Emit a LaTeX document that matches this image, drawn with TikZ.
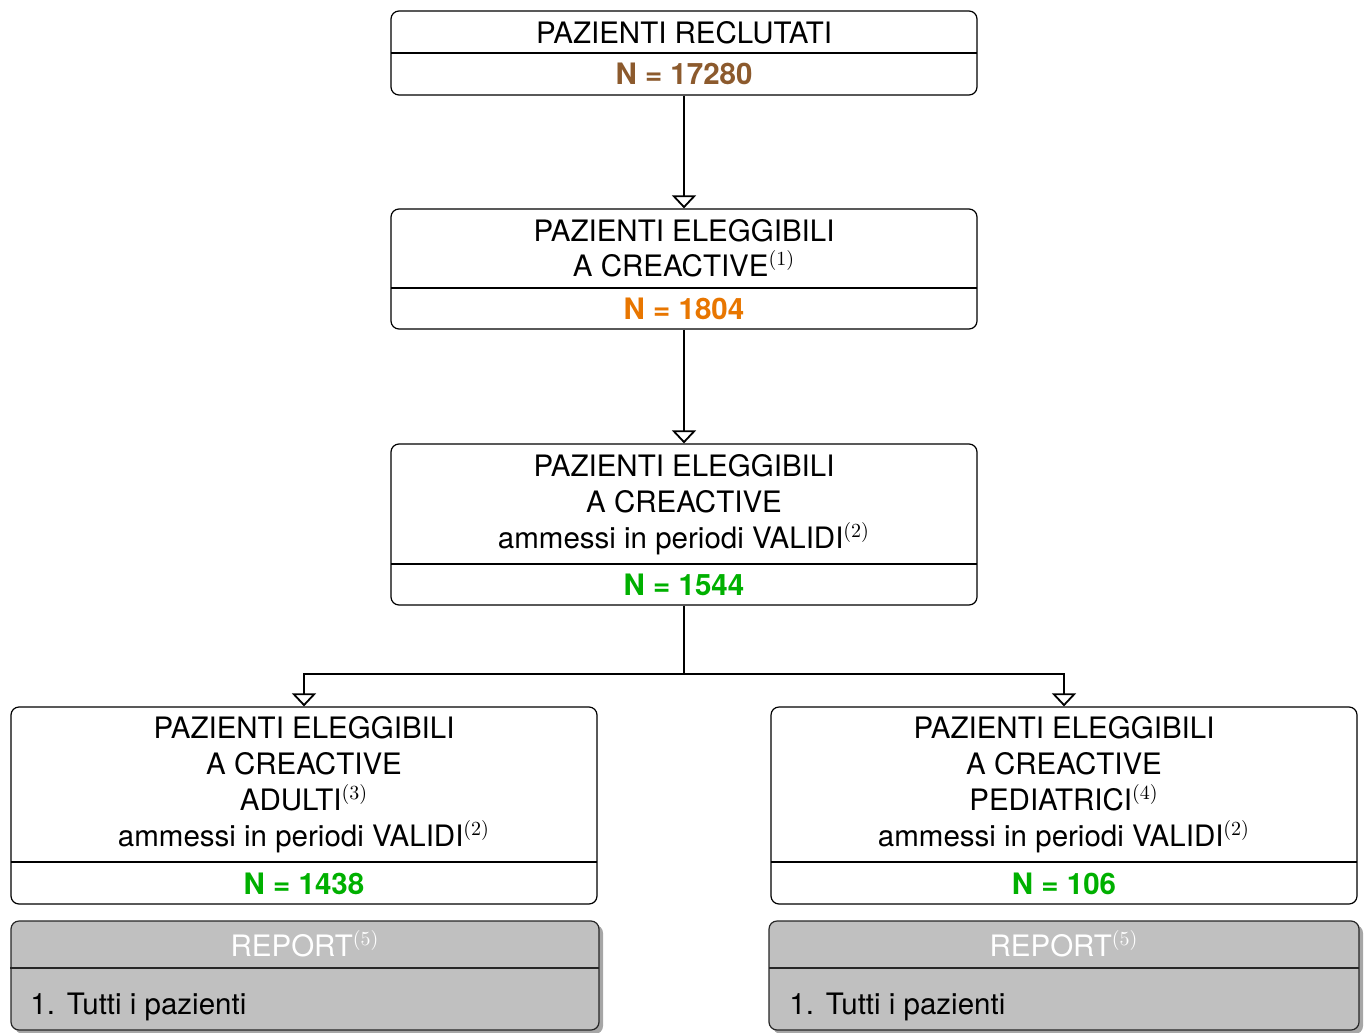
\documentclass[tikz,border=0pt]{standalone}
\usepackage{fontspec}
\setmainfont{TeX Gyre Heros}
\usetikzlibrary{arrows.meta}
\definecolor{nbrown}{RGB}{140,90,45}
\definecolor{norange}{RGB}{232,118,0}
\definecolor{ngreen}{RGB}{0,176,0}
\definecolor{repfill}{RGB}{192,192,192}
\begin{document}
\begin{tikzpicture}[x=0.5pt,y=-0.5pt,
  every node/.style={font=\fontsize{14.75}{18}\selectfont},
  box/.style={draw=black, line width=0.6pt, rounded corners=4pt, minimum width=293pt, inner sep=0pt, fill=white},
  repbox/.style={draw=black!85, line width=0.6pt, rounded corners=4pt, inner sep=0pt, fill=repfill},
  div/.style={line width=0.6pt},
  ln/.style={anchor=base, inner sep=0pt},
  nval/.style={anchor=base, inner sep=0pt, font=\fontsize{14.75}{18}\selectfont\bfseries},
  conn/.style={line width=1pt, -{Triangle[open, length=6.5pt, width=12pt, line width=0.9pt]}},
  plain/.style={line width=1pt}]
\useasboundingbox (0,0) rectangle (1365,1033);
% boxes
\node[box, minimum height=42pt] (b1) at (684,53) {};
\node[box, minimum height=60pt] (b2) at (684,269) {};
\node[box, minimum height=80.5pt] (b3) at (684,524.5) {};
\node[box, minimum height=98.5pt] (b4) at (304,805.5) {};
\node[box, minimum height=98.5pt] (b5) at (1064,805.5) {};
% report shadows
\fill[black!35, rounded corners=4pt] (15,925) rectangle (603,1034);
\fill[black!35, rounded corners=4pt] (773,925) rectangle (1363,1034);
\node[repbox, minimum width=294pt, minimum height=54.5pt] (r1) at (305,975.5) {};
\node[repbox, minimum width=295pt, minimum height=54.5pt] (r2) at (1064,975.5) {};
% dividers
\draw[div] (391,53) -- (977,53);
\draw[div] (391,288) -- (977,288);
\draw[div] (391,564) -- (977,564);
\draw[div] (11,862) -- (597,862);
\draw[div] (771,862) -- (1357,862);
\draw[div, draw=black!85] (10,968) -- (599,968);
\draw[div, draw=black!85] (769,968) -- (1359,968);
% box 1
\node[ln] (t1) at (684,43) {PAZIENTI RECLUTATI};
\node[nval, text=nbrown] (n1) at (684,84) {N = 17280};
% box 2
\node[ln] (t2a) at (684,241) {PAZIENTI ELEGGIBILI};
\node[ln] (t2b) at (684,276) {A CREACTIVE$^{(1)}$};
\node[nval, text=norange] (n2) at (684,319) {N = 1804};
% box 3
\node[ln] (t3a) at (684,476) {PAZIENTI ELEGGIBILI};
\node[ln] (t3b) at (684,512) {A CREACTIVE};
\node[ln] (t3c) at (684,548) {ammessi in periodi VALIDI$^{(2)}$};
\node[nval, text=ngreen] (n3) at (684,595) {N = 1544};
% box 4
\node[ln] (t4a) at (304,738) {PAZIENTI ELEGGIBILI};
\node[ln] (t4b) at (304,774) {A CREACTIVE};
\node[ln] (t4c) at (304,810) {ADULTI$^{(3)}$};
\node[ln] (t4d) at (304,846) {ammessi in periodi VALIDI$^{(2)}$};
\node[nval, text=ngreen] (n4) at (304,894) {N = 1438};
% box 5
\node[ln] (t5a) at (1064,738) {PAZIENTI ELEGGIBILI};
\node[ln] (t5b) at (1064,774) {A CREACTIVE};
\node[ln] (t5c) at (1064,810) {PEDIATRICI$^{(4)}$};
\node[ln] (t5d) at (1064,846) {ammessi in periodi VALIDI$^{(2)}$};
\node[nval, text=ngreen] (n5) at (1064,894) {N = 106};
% reports
\node[ln, text=white] (rt1) at (305,956) {REPORT$^{(5)}$};
\node[ln, anchor=base west] (ri1) at (30,1014) {1.\hspace{6pt}Tutti i pazienti};
\node[ln, text=white] (rt2) at (1064,956) {REPORT$^{(5)}$};
\node[ln, anchor=base west] (ri2) at (789,1014) {1.\hspace{6pt}Tutti i pazienti};
% connectors
\draw[conn] (b1.south) -- (b2.north);
\draw[conn] (b2.south) -- (b3.north);
\coordinate (j) at (684,674);
\draw[plain] (b3.south) -- (j);
\draw[conn] (j) -| (b4.north);
\draw[conn] (j) -| (b5.north);
\end{tikzpicture}
\end{document}
